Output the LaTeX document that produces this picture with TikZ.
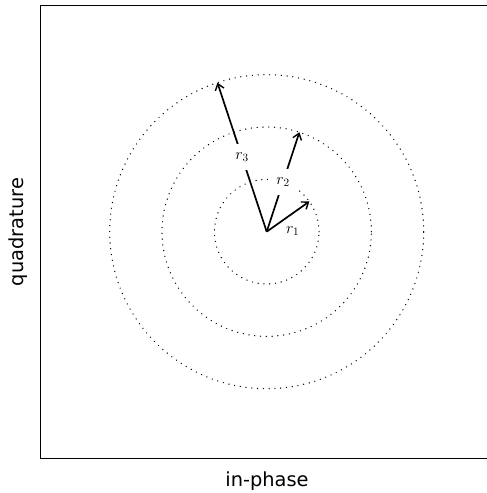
\RequirePackage{fix-cm}
\documentclass[tikz,border=0pt]{standalone}
\usepackage{fontspec}
\newfontfamily\axisfont{DejaVu Sans}
\usetikzlibrary{arrows.meta}
\begin{document}
\begin{tikzpicture}[x=1pt,y=1pt,
  frame/.style={line width=1pt,black},
  ring/.style={line width=1.4pt,dash pattern=on 0pt off 5.8pt,line cap=round,black},
  vec/.style={line width=1.7pt,-{Straight Barb[length=6pt,width=9pt,line width=1.4pt]}},
  lbl/.style={fill=white,inner sep=8.5pt,font=\fontsize{16}{19}\selectfont},
  lblplain/.style={inner sep=0pt,font=\fontsize{16}{19}\selectfont},
  axlbl/.style={inner sep=0pt,font=\axisfont\fontsize{19.4}{23}\selectfont}]
\useasboundingbox (0,0) rectangle (487,493);
\draw[frame] (495,487.3) -- (40.7,487.3) -- (40.7,34.7) -- (495,34.7);
\coordinate (O) at (266.7,261.3);
\path (O) ++(35.3:52.3) coordinate (t1);
\path (O) ++(71.8:104.7) coordinate (t2);
\path (O) ++(108.3:157) coordinate (t3);
\draw[ring] (O) circle[radius=52.3];
\draw[ring] (O) circle[radius=104.7];
\draw[ring] (O) circle[radius=157];
\draw[vec] (O) -- (t1);
\node[lblplain,anchor=base] (l1) at (292.7,259.7) {$r_1$};
\draw[vec] (O) -- node[lbl] (l2) {$r_2$} (t2);
\draw[vec] (O) -- node[lbl] (l3) {$r_3$} (t3);
\node[axlbl,anchor=base] (xl) at (267,6.7) {in-phase};
\node[axlbl,anchor=base,rotate=90] (yl) at (24,261) {quadrature};
\end{tikzpicture}
\end{document}
